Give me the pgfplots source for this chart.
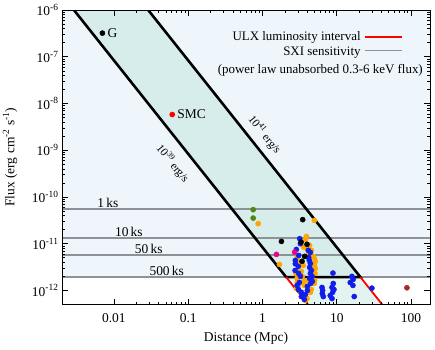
\documentclass[border=0pt]{standalone}
\usepackage{fontspec}
\setmainfont{Liberation Serif}
\usepackage{pgfplots}
\pgfplotsset{compat=1.18}

\definecolor{skyback}{RGB}{238,246,252}
\definecolor{bandup}{RGB}{214,237,236}
\definecolor{banddown}{RGB}{226,243,240}
\definecolor{sxigrey}{RGB}{140,146,152}
\definecolor{ptorange}{RGB}{255,165,0}
\definecolor{ptblue}{RGB}{15,30,235}
\definecolor{ptgreen}{RGB}{80,135,20}
\definecolor{ptbrown}{RGB}{170,40,40}

\begin{document}
\begin{tikzpicture}[font=\fontsize{13.5}{16}\selectfont]
\useasboundingbox (-62bp,-45bp) rectangle (373bp,304.5bp);
\begin{axis}[
    scale only axis,
    width=368bp,
    height=294.5bp,
    xmode=log, ymode=log,
    xmin=0.002, xmax=180,
    ymin=5e-13, ymax=1e-6,
    xtick={0.01,0.1,1,10,100},
    xticklabels={0.01,0.1,1,10,100},
    ytick={1e-12,1e-11,1e-10,1e-9,1e-8,1e-7,1e-6},
    yticklabels={10\textsuperscript{-12},10\textsuperscript{-11},10\textsuperscript{-10},10\textsuperscript{-9},10\textsuperscript{-8},10\textsuperscript{-7},10\textsuperscript{-6}},
    major tick length=6bp,
    minor tick length=3bp,
    tick style={black, line width=0.6bp},
    axis line style={line width=0.8bp},
    axis on top,
    xticklabel style={yshift=-6bp},
    xlabel={Distance (Mpc)},
    ylabel={Flux (erg cm\textsuperscript{-2} s\textsuperscript{-1})},
    xlabel style={at={(axis description cs:0.5,-0.115)}, anchor=center},
    ylabel style={at={(axis description cs:-0.141,0.5)}, anchor=center, rotate=0},
]
% background regions
\addplot[fill=skyback, draw=none] coordinates {(0.002,1.93e-12) (180,1.93e-12) (180,1e-6) (0.002,1e-6)} -- cycle;
\addplot[fill=bandup, draw=none] coordinates {(0.002891,1e-6) (0.02891,1e-6) (20.81,1.93e-12) (2.081,1.93e-12)} -- cycle;
\addplot[fill=banddown, draw=none] coordinates {(2.081,1.93e-12) (20.81,1.93e-12) (40.89,5e-13) (4.089,5e-13)} -- cycle;

% SXI sensitivity
\addplot[sxigrey, line width=1.6bp] coordinates {(0.002,5.5e-11) (180,5.5e-11)};
\addplot[sxigrey, line width=1.6bp] coordinates {(0.002,1.33e-11) (180,1.33e-11)};
\addplot[sxigrey, line width=1.6bp] coordinates {(0.002,5.7e-12) (180,5.7e-12)};
\addplot[sxigrey, line width=1.6bp] coordinates {(0.002,1.93e-12) (180,1.93e-12)};
\node[above, inner sep=1.5bp] at (axis cs:0.0083,5.5e-11) {1\,ks};
\node[above, inner sep=1.5bp] at (axis cs:0.0159,1.33e-11) {10\,ks};
\node[above, inner sep=1.5bp] at (axis cs:0.0295,5.7e-12) {50\,ks};
\node[above, inner sep=1.5bp] at (axis cs:0.0514,1.93e-12) {500\,ks};

% ULX luminosity interval
\addplot[black, line width=2.6bp] coordinates {(0.002891,1e-6) (2.081,1.93e-12) (20.81,1.93e-12) (0.02891,1e-6)};
\addplot[red, line width=1.8bp] coordinates {(2.081,1.93e-12) (4.089,5e-13)};
\addplot[red, line width=1.8bp] coordinates {(20.81,1.93e-12) (40.89,5e-13)};
\node[rotate=-51.4, inner sep=1bp, font=\fontsize{11.5}{13}\selectfont] at (axis cs:0.062,5.2e-10) {10\textsuperscript{39} erg/s};
\node[rotate=-51.4, inner sep=1bp, font=\fontsize{11.5}{13}\selectfont] at (axis cs:1.07,2.15e-9) {10\textsuperscript{41} erg/s};

% sources
\addplot[only marks, mark=*, mark size=2.6, ptorange] coordinates {
(0.875,2.68e-11) (4.99,3.15e-11) (1.69,3.6e-12)
(3.78,1.22e-11) (3.90,1.43e-11) (3.58,8.5e-12) (3.98,7.8e-12) (4.31,9.2e-12)
(4.55,7.2e-12) (4.18,6.3e-12) (4.84,5.35e-12) (4.99,4.84e-12) (5.14,4.18e-12)
(4.99,3.43e-12) (5.14,2.96e-12) (5.10,2.31e-12) (5.04,1.64e-12) (4.99,1.41e-12)
(2.92,2.68e-12) (2.83,2.28e-12) (2.92,1.81e-12) (2.95,1.48e-12) (3.04,1.28e-12)
(2.86,1.10e-12) (3.24,9.5e-13) (3.44,8.2e-13) (3.78,7.4e-13) (3.98,6.7e-13)
(3.78,6.1e-13) (3.34,2.55e-12) (3.44,2.0e-12) (3.55,1.56e-12) (3.66,1.28e-12)
(4.02,1.64e-12) (4.14,1.10e-12) (4.41,9.1e-13) (4.55,1.05e-12) (3.24,3.98e-12)
(3.55,3.43e-12) (2.95,5.1e-12) (4.41,5.35e-12)
};
\addplot[only marks, mark=*, mark size=2.6, ptblue] coordinates {
(3.17,1.28e-11) (3.24,1.0e-11) (2.86,7.55e-12) (3.07,5.6e-12) (2.77,4.39e-12)
(2.77,3.73e-12) (3.04,3.27e-12) (2.75,2.68e-12) (3.07,2.31e-12) (3.24,2.0e-12)
(3.14,1.48e-12) (2.92,1.28e-12) (3.04,1.05e-12) (3.34,9.1e-13) (3.34,7.4e-13)
(3.66,6.4e-13) (4.14,7.2e-12) (4.41,6.5e-12) (4.18,5.1e-12) (4.27,4.39e-12)
(4.41,3.78e-12) (4.31,3.11e-12) (4.55,2.68e-12) (4.41,2.31e-12) (4.65,2.0e-12)
(4.31,1.81e-12) (4.69,1.56e-12) (4.45,1.41e-12) (4.02,1.22e-12) (4.02,1.0e-12)
(3.78,8.2e-13) (8.89,2.35e-12) (6.33,1.16e-12) (6.45,1.0e-12) (6.39,8.6e-13)
(6.59,7.4e-13) (8.97,1.41e-12) (8.63,1.16e-12) (9.17,1.05e-12) (8.79,9.1e-13)
(8.18,7.8e-13) (8.63,6.7e-13) (16.0,2.0e-12) (16.6,1.72e-12) (15.2,1.48e-12)
(16.5,1.28e-12) (17.2,7.4e-13) (29.7,1.12e-12)
};
\addplot[only marks, mark=*, mark size=2.6, black] coordinates {
(0.007,3.2e-7) (1.80,1.12e-11) (3.48,3.27e-11) (3.31,1.08e-11) (3.98,9.7e-12)
(3.70,5.35e-12) (3.41,4.2e-12)
};
\addplot[only marks, mark=*, mark size=2.6, ptgreen] coordinates {(0.75,5.35e-11) (0.75,3.53e-11)};
\addplot[only marks, mark=*, mark size=2.6, magenta] coordinates {(1.54,5.9e-12) (2.71,6.6e-12)};
\addplot[only marks, mark=*, mark size=2.6, red] coordinates {(0.061,5.8e-9)};
\addplot[only marks, mark=*, mark size=2.6, ptbrown] coordinates {(88,1.14e-12)};
\node[right, inner sep=5bp] at (axis cs:0.007,3.2e-7) {G};
\node[right, inner sep=5bp] at (axis cs:0.061,5.8e-9) {SMC};

% key
\node[anchor=east, inner sep=0pt, font=\fontsize{13}{15}\selectfont] at (rel axis cs:0.812,0.907) {ULX luminosity interval};
\draw[red, line width=1.8bp] (rel axis cs:0.823,0.907) -- (rel axis cs:0.924,0.907);
\node[anchor=east, inner sep=0pt, font=\fontsize{13}{15}\selectfont] at (rel axis cs:0.812,0.857) {SXI sensitivity};
\draw[sxigrey, line width=1.6bp] (rel axis cs:0.823,0.862) -- (rel axis cs:0.924,0.862);
\node[anchor=east, inner sep=0pt, font=\fontsize{13}{15}\selectfont] at (rel axis cs:0.981,0.796) {(power law unabsorbed 0.3-6 keV flux)};
\end{axis}
\end{tikzpicture}
\end{document}
